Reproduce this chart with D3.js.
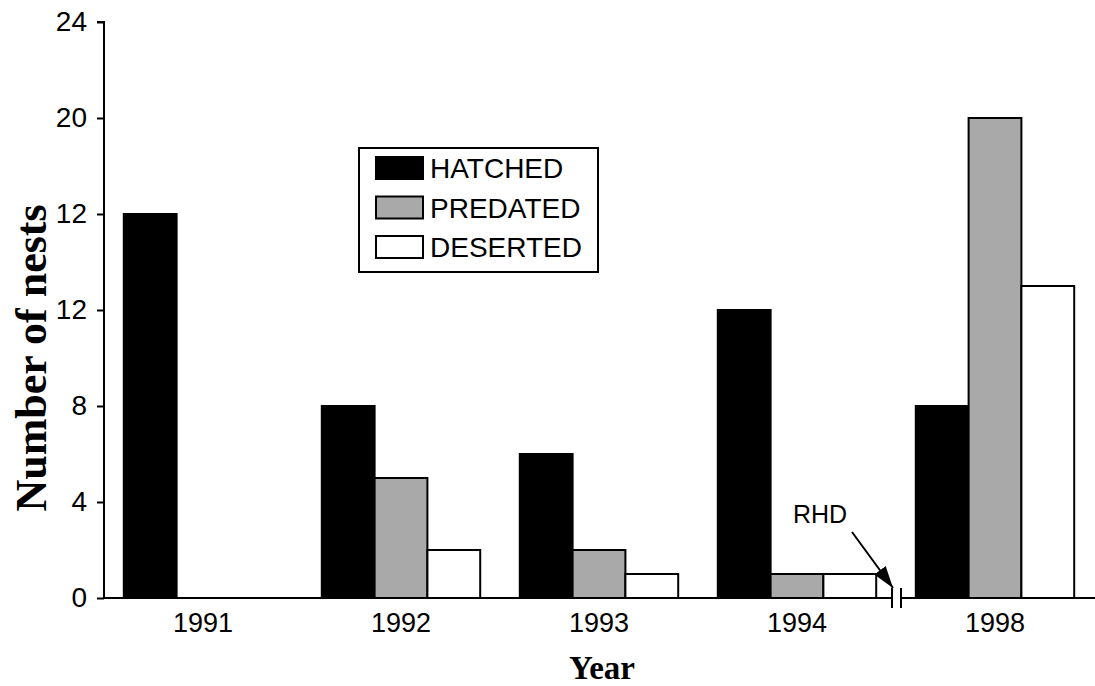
<!DOCTYPE html>
<html>
<head>
<meta charset="utf-8">
<script src="https://cdn.jsdelivr.net/npm/d3@7"></script>
<style>
  body { margin: 0; background: #fff; }
  svg { display: block; }
</style>
</head>
<body>
<div id="chart"></div>
<script>
// data
const years = ['1991', '1992', '1993', '1994', '1998'];
const hatched = [16, 8, 6, 12, 8];
const predated = [0, 5, 2, 1, 20];
const deserted = [0, 2, 1, 1, 13];
const seriesNames = ['HATCHED', 'PREDATED', 'DESERTED'];
const seriesColors = ['#000000', '#a9a9a9', '#ffffff'];
const yTickValues = [0, 4, 8, 12, 16, 20, 24];
const yTickLabels = ['0', '4', '8', '12', '12', '20', '24']; // as printed

const width = 1095, height = 686;
const svg = d3.select('#chart').append('svg')
  .attr('width', width).attr('height', height);

const sans = 'Liberation Sans, Arial, sans-serif';
const serif = 'Liberation Serif, Times New Roman, serif';

const axisX = 104;
const y = d3.scaleLinear().domain([0, 24]).range([598, 22]);

const x = d3.scaleBand().domain(years)
  .range([104, 1094])
  .paddingInner(0.2)
  .paddingOuter(0.1);

const xSub = d3.scaleBand().domain(seriesNames).range([0, x.bandwidth()]);

const series = [hatched, predated, deserted];

// bars
years.forEach((yr, i) => {
  series.forEach((vals, s) => {
    const v = vals[i];
    if (!v) return;
    svg.append('rect')
      .attr('x', x(yr) + xSub(seriesNames[s]))
      .attr('y', y(v))
      .attr('width', xSub.bandwidth())
      .attr('height', y(0) - y(v))
      .attr('fill', seriesColors[s])
      .attr('stroke', '#000')
      .attr('stroke-width', 2);
  });
});

// y axis
const yAxis = d3.axisLeft(y)
  .tickValues(yTickValues)
  .tickSize(7)
  .tickFormat((d, i) => yTickLabels[i]);
const gy = svg.append('g')
  .attr('transform', `translate(${axisX},0)`)
  .call(yAxis);
gy.select('.domain').attr('d', `M-7,${y(24)}H0V${y(0)}`).attr('stroke-width', 2);
gy.selectAll('.tick line').attr('stroke-width', 2);
gy.selectAll('.tick text')
  .attr('x', -17)
  .attr('font-family', sans)
  .attr('font-size', 28)
  .attr('fill', '#000');

// x axis baseline with break
const breakX = 896.5;
svg.append('line')
  .attr('x1', axisX).attr('x2', breakX - 4.5)
  .attr('y1', y(0)).attr('y2', y(0))
  .attr('stroke', '#000').attr('stroke-width', 2);
svg.append('line')
  .attr('x1', breakX + 4.5).attr('x2', width)
  .attr('y1', y(0)).attr('y2', y(0))
  .attr('stroke', '#000').attr('stroke-width', 2);
[-4.5, 4.5].forEach(dx => {
  svg.append('line')
    .attr('x1', breakX + dx).attr('x2', breakX + dx)
    .attr('y1', y(0) - 10).attr('y2', y(0) + 10)
    .attr('stroke', '#000').attr('stroke-width', 2);
});

// x labels
svg.selectAll('text.xlab')
  .data(years).enter().append('text')
  .attr('class', 'xlab')
  .attr('x', d => x(d) + x.bandwidth() / 2)
  .attr('y', 632)
  .attr('text-anchor', 'middle')
  .attr('font-family', sans)
  .attr('font-size', 27)
  .text(d => d);

// axis titles
svg.append('text')
  .attr('x', 602).attr('y', 679)
  .attr('text-anchor', 'middle')
  .attr('font-family', serif)
  .attr('font-weight', 'bold')
  .attr('font-size', 33)
  .text('Year');

svg.append('text')
  .attr('transform', 'translate(46,358) rotate(-90)')
  .attr('text-anchor', 'middle')
  .attr('font-family', serif)
  .attr('font-weight', 'bold')
  .attr('font-size', 44)
  .text('Number of nests');

// legend
const legend = svg.append('g').attr('transform', 'translate(359,148)');
legend.append('rect')
  .attr('width', 239).attr('height', 124)
  .attr('fill', '#fff').attr('stroke', '#000').attr('stroke-width', 2);
seriesNames.forEach((name, i) => {
  const row = legend.append('g').attr('transform', `translate(17,${9 + i * 39.5})`);
  row.append('rect')
    .attr('width', 47).attr('height', 22)
    .attr('fill', seriesColors[i])
    .attr('stroke', '#000').attr('stroke-width', 2);
  row.append('text')
    .attr('x', 54).attr('y', 21)
    .attr('font-family', sans)
    .attr('font-size', 28)
    .text(name);
});

// RHD annotation
svg.append('defs').append('marker')
  .attr('id', 'arrow')
  .attr('viewBox', '0 0 22 14')
  .attr('refX', 22).attr('refY', 7)
  .attr('markerWidth', 22).attr('markerHeight', 14)
  .attr('markerUnits', 'userSpaceOnUse')
  .attr('orient', 'auto')
  .append('path').attr('d', 'M0,0L22,7L0,14Z').attr('fill', '#000');

svg.append('text')
  .attr('x', 793).attr('y', 523)
  .attr('font-family', sans)
  .attr('font-size', 25)
  .text('RHD');
svg.append('line')
  .attr('x1', 852).attr('y1', 532)
  .attr('x2', 893).attr('y2', 588)
  .attr('stroke', '#000').attr('stroke-width', 2)
  .attr('marker-end', 'url(#arrow)');
</script>
</body>
</html>
